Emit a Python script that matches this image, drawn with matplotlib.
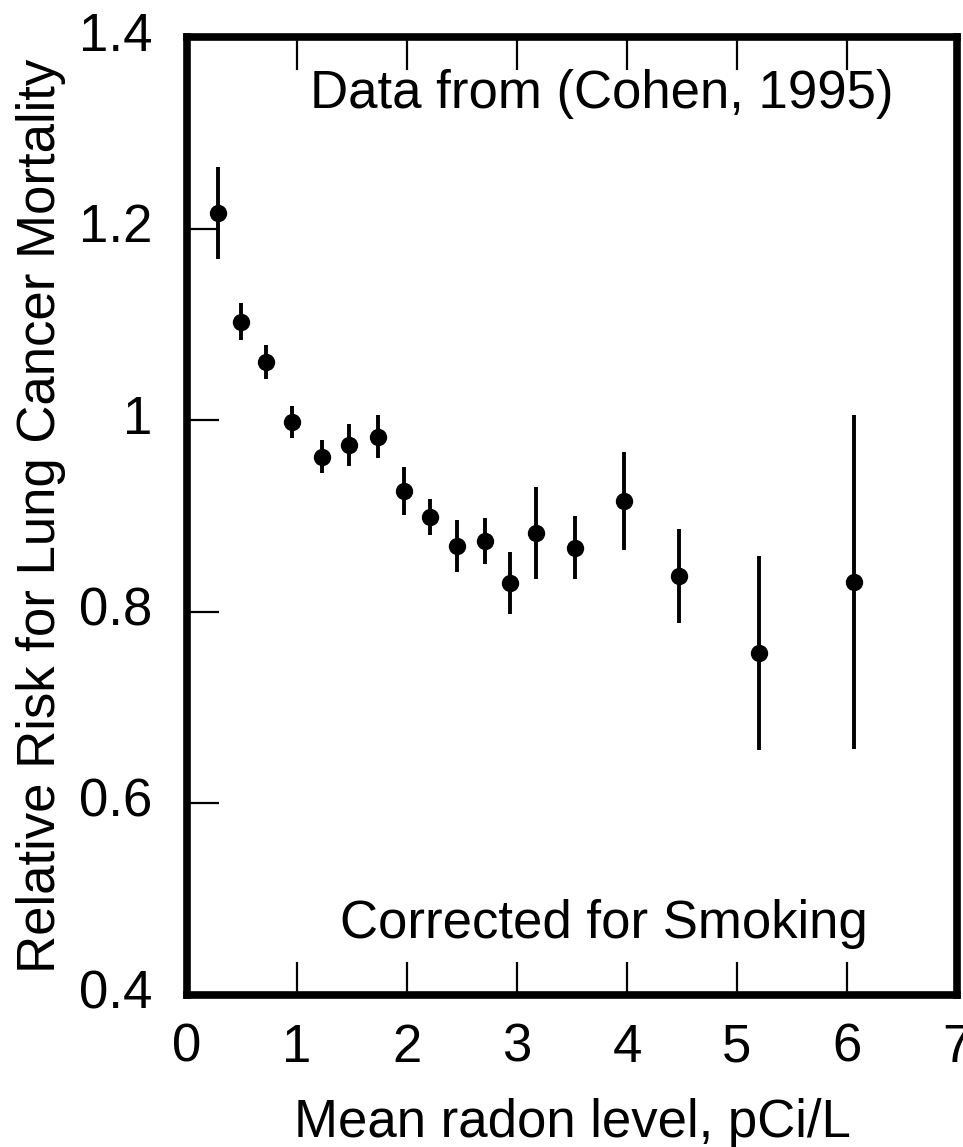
import matplotlib
matplotlib.use("Agg")
import matplotlib.pyplot as plt
from matplotlib.transforms import ScaledTranslation

radon = [0.28, 0.49, 0.72, 0.955, 1.225, 1.476, 1.74, 1.97, 2.21, 2.457, 2.71, 2.94, 3.17, 3.53, 3.97, 4.476, 5.2, 6.06]
risk = [1.216, 1.103, 1.061, 0.998, 0.962, 0.974, 0.983, 0.926, 0.899, 0.869, 0.874, 0.830, 0.882, 0.867, 0.916, 0.837, 0.757, 0.831]
err = [0.048, 0.019, 0.018, 0.017, 0.017, 0.022, 0.022, 0.025, 0.019, 0.027, 0.024, 0.032, 0.048, 0.033, 0.051, 0.049, 0.101, 0.174]

xticks = [0, 1, 2, 3, 4, 5, 6, 7]
yticks = [0.4, 0.6, 0.8, 1.0, 1.2, 1.4]
ytick_labels = ["0.4", "0.6", "0.8", "1", "1.2", "1.4"]

plt.rcParams['font.family'] = ['Liberation Sans', 'DejaVu Sans']
FS = 38

fig = plt.figure(figsize=(9.63, 11.47), dpi=100)
ax = fig.add_axes([0.1942, 0.1325, 0.7996, 0.8352])

ax.errorbar(radon, risk, yerr=err, fmt='o', color='black', ms=11.5,
            elinewidth=2.8, capsize=0, zorder=3)

ax.set_xlim(0, 7)
ax.set_ylim(0.4, 1.4)
ax.set_xticks(xticks)
ax.set_yticks(yticks)
ax.set_yticklabels(ytick_labels)

for s in ax.spines.values():
    s.set_linewidth(5.5)

ax.tick_params(axis='x', direction='in', length=24, width=1.6, labelsize=FS,
               pad=20, top=True, bottom=True)
ax.tick_params(axis='y', direction='in', length=23, width=1.6, labelsize=FS,
               pad=25, left=True, right=False)

shift = ScaledTranslation(0, 6 / 100, fig.dpi_scale_trans)
for lab in ax.get_yticklabels():
    lab.set_transform(lab.get_transform() + shift)

ax.set_xlabel("Mean radon level, pCi/L", fontsize=FS, labelpad=18)
ax.set_ylabel("Relative Risk for Lung Cancer Mortality", fontsize=FS, labelpad=9)

ax.text(3.77, 1.326, "Data from (Cohen, 1995)", fontsize=FS, ha='center', va='baseline')
ax.text(3.79, 0.460, "Corrected for Smoking", fontsize=FS, ha='center', va='baseline')

fig.savefig("out.png", dpi=100)
